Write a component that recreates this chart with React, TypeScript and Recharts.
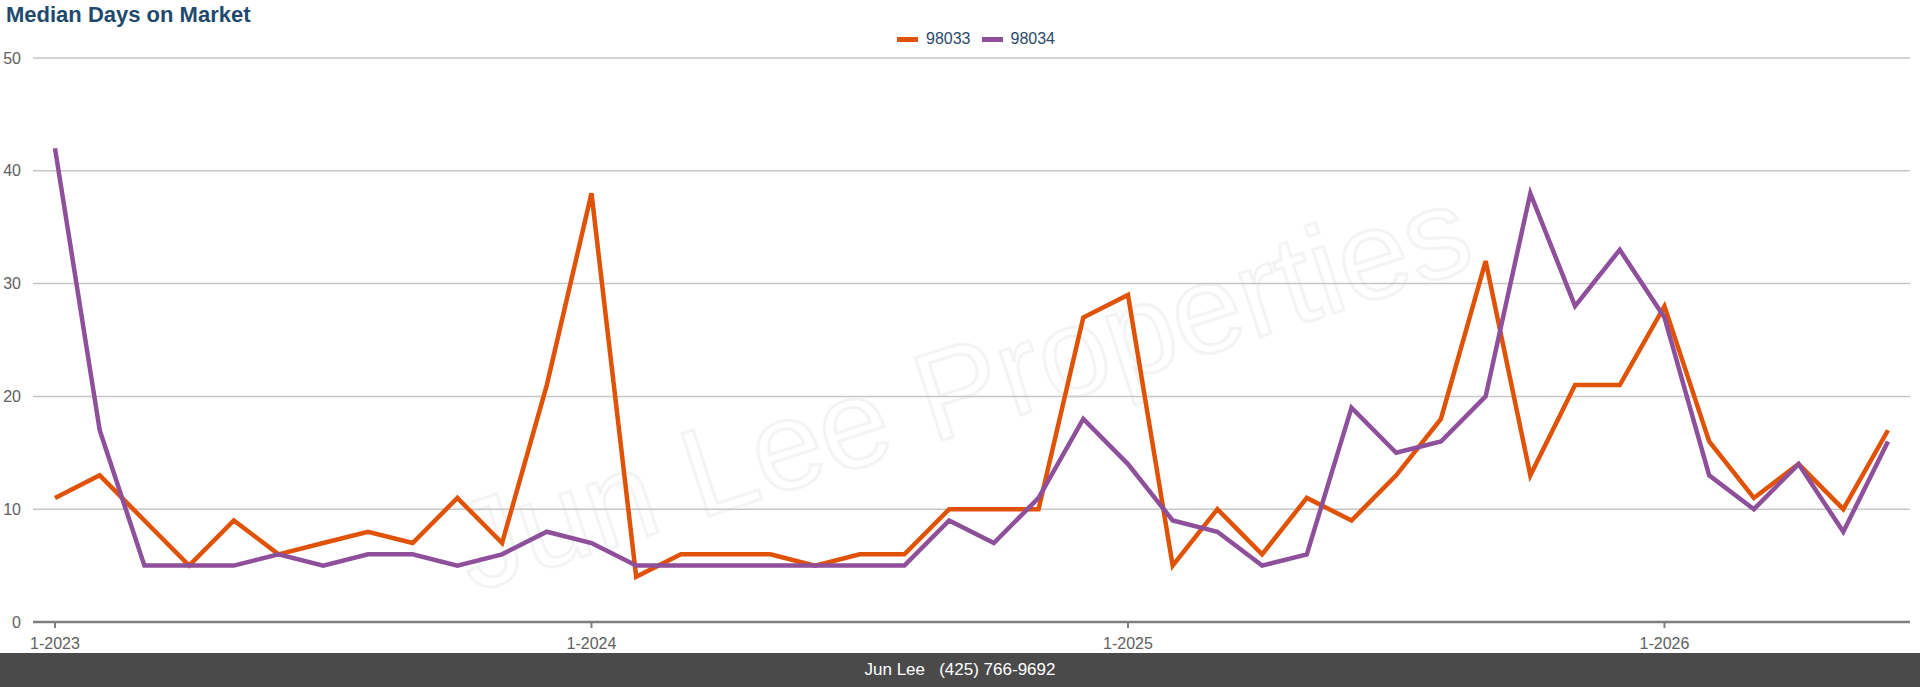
import { CartesianGrid, Line, LineChart, XAxis, YAxis } from "recharts"

const months = [
  "1-2023", "2-2023", "3-2023", "4-2023", "5-2023", "6-2023", "7-2023", "8-2023", "9-2023", "10-2023", "11-2023", "12-2023",
  "1-2024", "2-2024", "3-2024", "4-2024", "5-2024", "6-2024", "7-2024", "8-2024", "9-2024", "10-2024", "11-2024", "12-2024",
  "1-2025", "2-2025", "3-2025", "4-2025", "5-2025", "6-2025", "7-2025", "8-2025", "9-2025", "10-2025", "11-2025", "12-2025",
  "1-2026", "2-2026", "3-2026", "4-2026", "5-2026", "6-2026",
]

const zip98033 = [
  11, 13, 9, 5, 9, 6, 7, 8, 7, 11, 7, 21,
  38, 4, 6, 6, 6, 5, 6, 6, 10, 10, 10, 27,
  29, 5, 10, 6, 11, 9, 13, 18, 32, 13, 21, 21,
  28, 16, 11, 14, 10, 17,
]

const zip98034 = [
  42, 17, 5, 5, 5, 6, 5, 6, 6, 5, 6, 8,
  7, 5, 5, 5, 5, 5, 5, 5, 9, 7, 11, 18,
  14, 9, 8, 5, 6, 19, 15, 16, 20, 38, 28, 33,
  27, 13, 10, 14, 8, 16,
]

const yTicks = [0, 10, 20, 30, 40, 50]

const series = [
  { key: "98033", color: "#e05206" },
  { key: "98034", color: "#8e4f9b" },
]

const font = '"Liberation Sans", Arial, Helvetica, sans-serif'

export default function App() {
  const data = months.map((m, i) => ({ month: m, "98033": zip98033[i], "98034": zip98034[i] }))

  return (
    <div style={{ position: "absolute", left: 0, top: 0, width: 1920, height: 687, background: "#fff", fontFamily: font, overflow: "hidden" }}>
      {/* faint watermark behind the chart */}
      <div
        style={{
          position: "absolute",
          left: 962,
          top: 388,
          transform: "translate(-50%, -50%) rotate(-18deg)",
          fontSize: 126,
          whiteSpace: "nowrap",
          color: "transparent",
          WebkitTextStroke: "3px #f4f4f4",
          pointerEvents: "none",
        }}
      >
        Jun Lee Properties
      </div>

      <div style={{ position: "absolute", left: 6, top: 2, fontSize: 22, fontWeight: "bold", color: "#1f4a6e" }}>
        Median Days on Market
      </div>

      <div style={{ position: "absolute", top: 30, left: 897, display: "flex", alignItems: "center", fontSize: 16, color: "#2b4a6b" }}>
        {series.map((s) => (
          <div key={s.key} style={{ display: "flex", alignItems: "center", marginRight: 11 }}>
            <div style={{ width: 21, height: 5, background: s.color, marginRight: 8 }}></div>
            <span>{s.key}</span>
          </div>
        ))}
      </div>

      <div style={{ position: "absolute", left: 0, top: 0 }}>
        <LineChart width={1920} height={653} data={data} margin={{ top: 58, right: 10, bottom: 0, left: 0 }}>
          <CartesianGrid vertical={false} stroke="#c6c6c6" strokeWidth={1.5} />
          <XAxis
            dataKey="month"
            interval={11}
            height={31}
            padding={{ left: 22, right: 22 }}
            axisLine={{ stroke: "#7f7f7f", strokeWidth: 2.5 }}
            tickLine={{ stroke: "#7f7f7f", strokeWidth: 2 }}
            tickSize={6}
            tickMargin={10}
            tick={{ fontSize: 16, fill: "#606060", fontFamily: font }}
          />
          <YAxis
            domain={[0, 50]}
            ticks={yTicks}
            width={33}
            axisLine={false}
            tickLine={false}
            tickSize={0}
            tickMargin={12}
            tick={{ fontSize: 16, fill: "#606060", fontFamily: font }}
          />
          {series.map((s) => (
            <Line
              key={s.key}
              type="linear"
              dataKey={s.key}
              stroke={s.color}
              strokeWidth={4.5}
              dot={false}
              activeDot={false}
              isAnimationActive={false}
            />
          ))}
        </LineChart>
      </div>

      <div
        style={{
          position: "absolute",
          left: 0,
          top: 653,
          width: 1920,
          height: 34,
          background: "#4a4a4a",
          color: "#fff",
          fontSize: 17,
          display: "flex",
          alignItems: "center",
          justifyContent: "center",
          whiteSpace: "pre",
        }}
      >
        {"Jun Lee   (425) 766-9692"}
      </div>
    </div>
  )
}
